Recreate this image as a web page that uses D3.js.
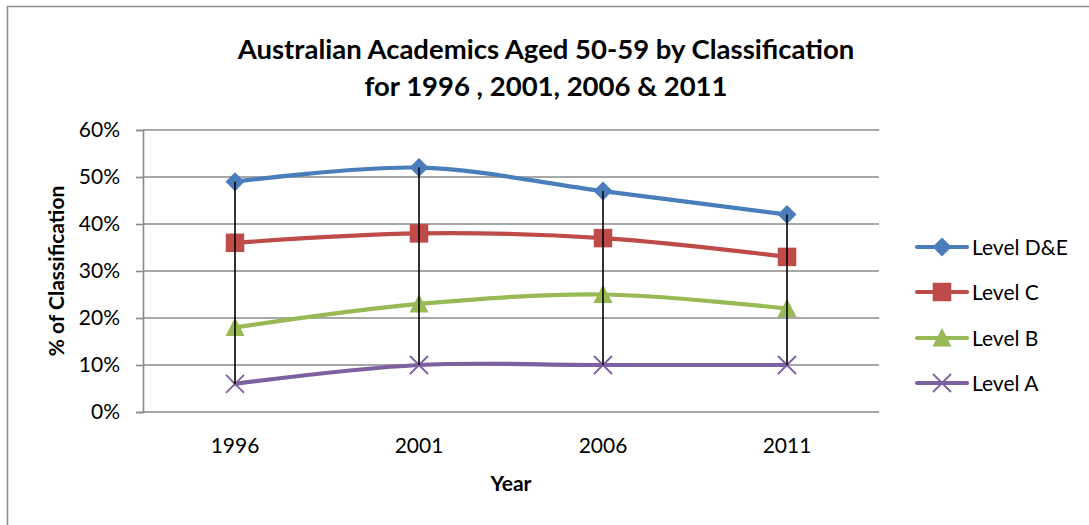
<!DOCTYPE html>
<html>
<head>
<meta charset="utf-8">
<script src="https://cdn.jsdelivr.net/npm/d3@7"></script>
<style>
  html, body { margin: 0; padding: 0; background: #fff; }
  svg { display: block; }
  text { font-family: Lato, "Open Sans", sans-serif; fill: #000; }
</style>
</head>
<body>
<svg id="chart" width="1089" height="525"></svg>
<script>
// Census years and share of academics aged 50-59 in each classification level (%)
const years = ["1996", "2001", "2006", "2011"];
const seriesNames = ["Level D&E", "Level C", "Level B", "Level A"];
const levelDE = [49, 52, 47, 42];
const levelC  = [36, 38, 37, 33];
const levelB  = [18, 23, 25, 22];
const levelA  = [6, 10, 10, 10];
const yTicks  = [0, 10, 20, 30, 40, 50, 60];

const seriesValues = [levelDE, levelC, levelB, levelA];
const seriesColors = ["#4a7ebb", "#be4b48", "#98b954", "#7d60a0"];
const seriesMarkers = ["diamond", "square", "triangle", "cross"];

const svg = d3.select("#chart");
const W = 1089, H = 525;
const plot = { left: 143, right: 879, top: 130, bottom: 412 };
const labelFont = "21px";

// chart frame (open on right/bottom edges of the canvas)
svg.append("path")
  .attr("d", `M7.5,${H} L7.5,6.5 L${W},6.5`)
  .attr("fill", "none").attr("stroke", "#8c8c8c").attr("stroke-width", 1.5);

const x = d3.scaleBand().domain(years).range([plot.left, plot.right]).paddingInner(0).paddingOuter(0);
const y = d3.scaleLinear().domain([0, 60]).range([plot.bottom, plot.top]);
const cx = d => x(d) + x.bandwidth() / 2;

// horizontal gridlines
svg.append("g").selectAll("line").data(yTicks.filter(t => t > 0)).join("line")
  .attr("x1", plot.left).attr("x2", plot.right)
  .attr("y1", d => y(d)).attr("y2", d => y(d))
  .attr("stroke", "#8a8a8a").attr("stroke-width", 1.6);

// y axis
const yAxis = d3.axisLeft(y).tickValues(yTicks).tickFormat(d => d + "%").tickSize(7).tickPadding(16);
const gy = svg.append("g").attr("transform", `translate(${plot.left},0)`).call(yAxis);
gy.select(".domain").attr("stroke", "#8a8a8a").attr("stroke-width", 1.6);
gy.selectAll(".tick line").attr("stroke", "#8a8a8a").attr("stroke-width", 1.6);
gy.selectAll(".tick text").style("font-family", "Lato, sans-serif").style("font-size", labelFont).attr("fill", "#000");

// x axis
const xAxis = d3.axisBottom(x).tickSize(0).tickPadding(26);
const gx = svg.append("g").attr("transform", `translate(0,${plot.bottom})`).call(xAxis);
gx.select(".domain").attr("stroke", "#8a8a8a").attr("stroke-width", 1.6)
  .attr("d", `M${plot.left},0H${plot.right}`);
gx.selectAll(".tick text").style("font-family", "Lato, sans-serif").style("font-size", labelFont).attr("fill", "#000");

// drop lines from highest to lowest series at each year
const dropData = years.map((yr, i) => ({
  yr,
  hi: d3.max(seriesValues, s => s[i]),
  lo: d3.min(seriesValues, s => s[i])
}));

// smoothed series lines
const line = d3.line()
  .x((d, i) => cx(years[i]))
  .y(d => y(d))
  .curve(d3.curveCardinal.tension(0));

seriesValues.forEach((vals, si) => {
  svg.append("path").datum(vals)
    .attr("d", line)
    .attr("fill", "none")
    .attr("stroke", seriesColors[si])
    .attr("stroke-width", 4.2)
    .attr("stroke-linecap", "round");
});

// marker drawing
function drawMarker(g, kind, color, px, py) {
  if (kind === "diamond") {
    const r = 9.5;
    g.append("path").attr("d", `M${px},${py - r}L${px + r},${py}L${px},${py + r}L${px - r},${py}Z`)
      .attr("fill", color);
  } else if (kind === "square") {
    const s = 18.5;
    g.append("rect").attr("x", px - s / 2).attr("y", py - s / 2).attr("width", s).attr("height", s)
      .attr("fill", color);
  } else if (kind === "triangle") {
    const r = 9.5;
    g.append("path").attr("d", `M${px},${py - r - 0.5}L${px + r},${py + r - 1}L${px - r},${py + r - 1}Z`)
      .attr("fill", color);
  } else if (kind === "cross") {
    const r = 9;
    g.append("path").attr("d", `M${px - r},${py - r}L${px + r},${py + r}M${px - r},${py + r}L${px + r},${py - r}`)
      .attr("stroke", color).attr("stroke-width", 1.8).attr("fill", "none");
  }
}

seriesValues.forEach((vals, si) => {
  const g = svg.append("g");
  vals.forEach((v, i) => drawMarker(g, seriesMarkers[si], seriesColors[si], cx(years[i]), y(v)));
});

// drop lines drawn on top, passing through the marker centres
svg.append("g").selectAll("line").data(dropData).join("line")
  .attr("x1", d => cx(d.yr)).attr("x2", d => cx(d.yr))
  .attr("y1", d => y(d.hi)).attr("y2", d => y(d.lo))
  .attr("stroke", "#000").attr("stroke-width", 1.6);

// legend
const legendY = [247, 292, 338, 383];
seriesNames.forEach((name, si) => {
  const g = svg.append("g");
  const ly = legendY[si];
  g.append("line").attr("x1", 917).attr("x2", 967).attr("y1", ly).attr("y2", ly)
    .attr("stroke", seriesColors[si]).attr("stroke-width", 4.2).attr("stroke-linecap", "round");
  drawMarker(g, seriesMarkers[si], seriesColors[si], 942, ly);
  g.append("text").attr("x", 972).attr("y", ly + 8).style("font-size", labelFont).text(name);
});

// titles
svg.append("text").attr("x", 546).attr("y", 59).attr("text-anchor", "middle")
  .style("font-size", "27.5px").style("font-weight", "bold")
  .text("Australian Academics Aged 50-59 by Classification");
svg.append("text").attr("x", 546).attr("y", 96).attr("text-anchor", "middle")
  .style("font-size", "27.5px").style("font-weight", "bold")
  .text("for 1996 , 2001, 2006 & 2011");

svg.append("text").attr("x", 511).attr("y", 491).attr("text-anchor", "middle")
  .style("font-size", labelFont).style("font-weight", "bold").text("Year");

svg.append("text").attr("transform", "translate(64,271) rotate(-90)").attr("text-anchor", "middle")
  .style("font-size", labelFont).style("font-weight", "bold").text("% of Classification");
</script>
</body>
</html>
